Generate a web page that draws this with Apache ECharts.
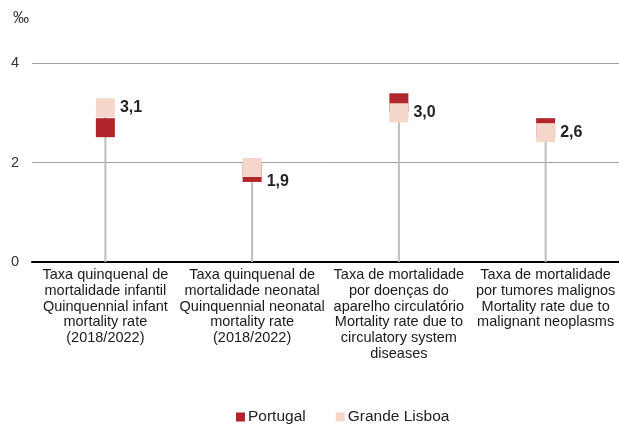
<!DOCTYPE html>
<html>
<head>
<meta charset="utf-8">
<script src="https://cdn.jsdelivr.net/npm/echarts@6/dist/echarts.min.js"></script>
<style>html,body{margin:0;padding:0;background:#fff}#c{width:619px;height:424px}</style>
</head>
<body>
<div id="c"></div>
<script>
const categories = [
  "Taxa quinquenal de\nmortalidade infantil\nQuinquennial infant\nmortality rate\n(2018/2022)",
  "Taxa quinquenal de\nmortalidade neonatal\nQuinquennial neonatal\nmortality rate\n(2018/2022)",
  "Taxa de mortalidade\npor doenças do\naparelho circulatório\nMortality rate due to\ncirculatory system\ndiseases",
  "Taxa de mortalidade\npor tumores malignos\nMortality rate due to\nmalignant neoplasms"
];
const portugal = [2.7, 1.8, 3.2, 2.7];
const grandeLisboa = [3.1, 1.9, 3.0, 2.6];
const yTicks = [0, 2, 4];

const font = "'Liberation Sans', Arial, sans-serif";
const stems = portugal.map((v, i) => Math.max(v, grandeLisboa[i]));
const labelOffsets = [[0, 0], [0, 14], [0, 0], [0, 0]];

const chart = echarts.init(document.getElementById('c'), null, {renderer: 'canvas'});
chart.setOption({
  animation: false,
  textStyle: {fontFamily: font},
  title: {text: '‰', left: 8, top: 6, textStyle: {fontSize: 16, fontWeight: 'normal', color: '#333', fontFamily: font}},
  grid: {left: 32, right: -3, top: 63, bottom: 162, containLabel: false},
  legend: {
    data: ['Portugal', 'Grande Lisboa'],
    top: 404, left: 231,
    icon: 'rect', itemWidth: 9, itemHeight: 9, itemGap: 30,
    textStyle: {fontSize: 15.5, color: '#222', fontFamily: font, padding: [0, 0, 0, -2]}
  },
  xAxis: {
    type: 'category', data: categories,
    axisLine: {lineStyle: {color: '#000', width: 2}},
    axisTick: {show: false},
    axisLabel: {interval: 0, fontSize: 14.5, lineHeight: 15.8, color: '#1a1a1a', margin: 5, fontFamily: font}
  },
  yAxis: {
    type: 'value', min: yTicks[0], max: yTicks[yTicks.length - 1], interval: 2,
    axisLine: {show: false}, axisTick: {show: false},
    axisLabel: {fontSize: 14.5, color: '#333', margin: 13, fontFamily: font},
    splitLine: {lineStyle: {color: '#a0a0a0', width: 1}}
  },
  series: [
    {
      type: 'bar', name: 'stem', data: stems, barWidth: 2, z: 1,
      itemStyle: {color: '#bdbdbd'}, silent: true, legendHoverLink: false
    },
    {
      type: 'scatter', name: 'Portugal', data: portugal, symbol: 'rect', symbolSize: 19, z: 3,
      itemStyle: {color: '#b2262b', opacity: 1}
    },
    {
      type: 'scatter', name: 'Grande Lisboa', z: 4,
      data: grandeLisboa.map((v, i) => ({value: v, label: {offset: labelOffsets[i]}})),
      symbol: 'rect', symbolSize: 19,
      itemStyle: {color: '#f4d6ca', opacity: 1},
      label: {
        show: true, position: 'right', distance: 5,
        fontSize: 16, fontWeight: 'bold', color: '#222', fontFamily: font,
        formatter: p => String(p.value).replace('.', ',').replace(/^(\d)$/, '$1,0')
      }
    }
  ]
});
</script>
</body>
</html>
